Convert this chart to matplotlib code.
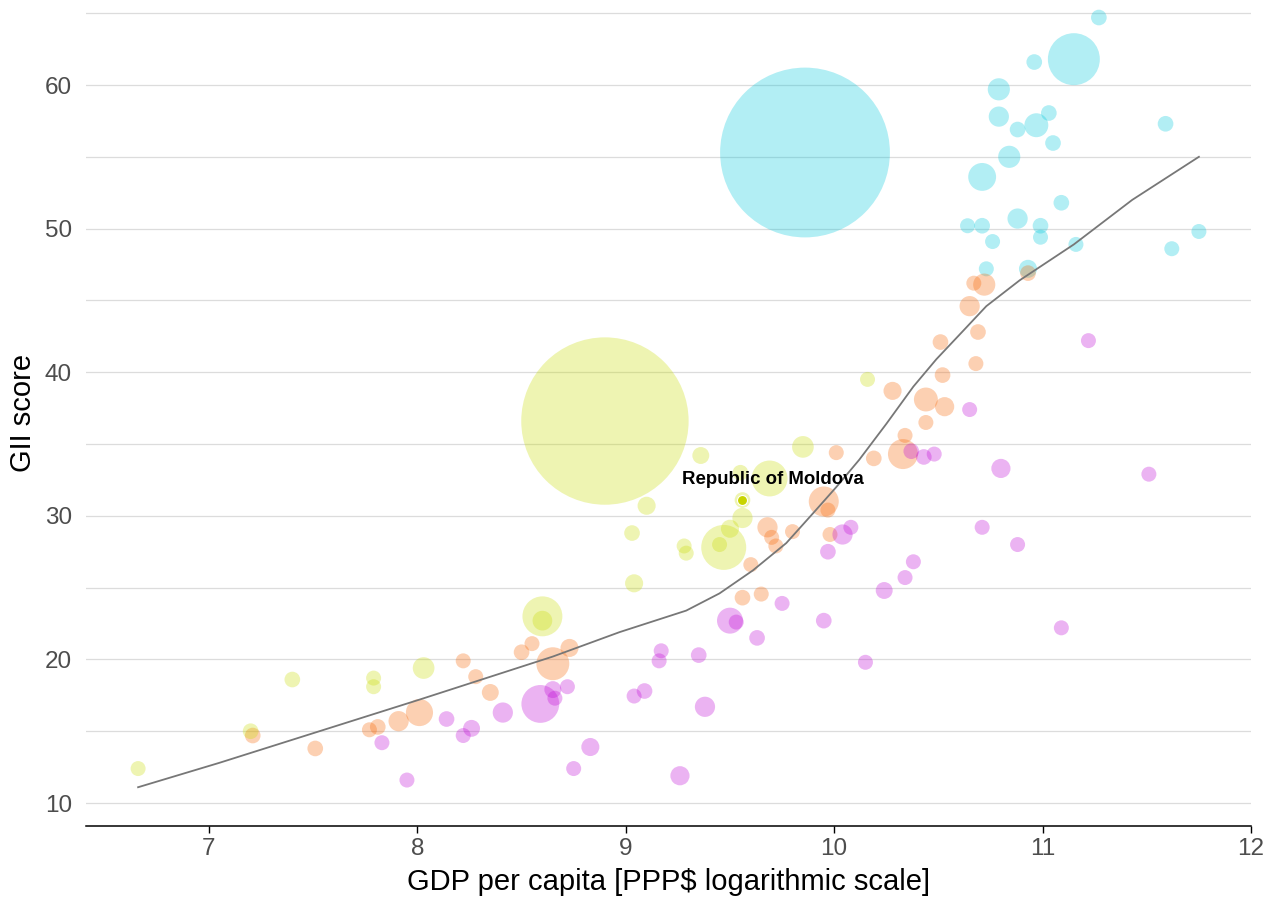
import numpy as np
import matplotlib.pyplot as plt
from matplotlib.ticker import MultipleLocator

plt.rcParams['font.family'] = ['Liberation Sans', 'DejaVu Sans']

# --- data: log GDP per capita, GII score, population (millions) ---
gdp_a = [11.27, 11.15, 10.96, 10.79, 10.79, 11.03, 10.88, 10.97, 11.05, 11.59, 10.84, 10.71,
         11.09, 10.88, 10.64, 10.71, 10.99, 10.99, 10.76, 11.75, 11.16, 11.62, 10.73, 10.93, 9.86]
gii_a = [64.7, 61.8, 61.6, 59.7, 57.8, 58.05, 56.9, 57.2, 55.96, 57.3, 55.0, 53.6,
         51.8, 50.7, 50.2, 50.2, 50.2, 49.4, 49.1, 49.8, 48.9, 48.6, 47.2, 47.2, 55.3]
pop_a = [12, 132, 12, 24, 20, 12, 12, 28, 12, 12, 24, 38,
         12, 20, 11, 12, 12, 11, 11, 11, 11, 11, 11, 16, 1410]

gdp_b = [10.67, 10.72, 10.93, 10.65, 10.69, 10.51, 10.68, 10.52, 10.28, 10.44, 10.53, 10.44,
         10.34, 10.33, 10.19, 10.01, 9.95, 9.97, 9.68, 9.70, 9.72, 9.80, 9.98, 9.60, 9.56, 9.65,
         8.65, 8.55, 8.50, 8.73, 8.22, 8.28, 8.35, 8.01, 7.91, 7.81, 7.77, 7.51, 7.21]
gii_b = [46.2, 46.1, 46.9, 44.6, 42.8, 42.1, 40.6, 39.8, 38.7, 38.1, 37.6, 36.5,
         35.6, 34.3, 34.0, 34.4, 31.0, 30.4, 29.2, 28.5, 27.9, 28.9, 28.7, 26.6, 24.3, 24.55,
         19.7, 21.1, 20.5, 20.8, 19.9, 18.8, 17.7, 16.3, 15.7, 15.3, 15.1, 13.8, 14.7]
pop_b = [11, 24, 12, 20, 12, 12, 11, 12, 16, 28, 18, 11,
         11, 44, 12, 11, 44, 11, 20, 11, 11, 11, 11, 11, 12, 11,
         53, 11, 12, 16, 11, 11, 14, 36, 20, 12, 11, 12, 12]

gdp_c = [8.90, 9.36, 9.10, 9.03, 9.55, 9.69, 9.56, 9.56, 9.50, 9.47, 9.45, 9.28,
         9.29, 9.04, 9.85, 10.16, 8.60, 8.60, 8.03, 7.79, 7.79, 7.40, 7.20, 6.66]
gii_c = [36.6, 34.2, 30.7, 28.8, 33.0, 32.6, 31.1, 29.85, 29.1, 27.8, 28.0, 27.9,
         27.4, 25.3, 34.8, 39.5, 23.0, 22.7, 19.4, 18.7, 18.1, 18.6, 15.0, 12.4]
pop_c = [1370, 14, 16, 12, 12, 63, 12, 20, 16, 99, 11, 11,
         11, 16, 23, 11, 78, 19, 23, 11, 11, 12, 12, 11]

gdp_d = [11.22, 10.65, 10.37, 10.43, 10.48, 10.80, 11.51, 10.71, 10.88, 10.38, 10.34, 10.24,
         10.04, 10.08, 9.97, 9.95, 10.15, 11.09, 9.75, 9.50, 9.53, 9.63, 9.17, 9.16, 9.35,
         9.04, 9.09, 9.38, 8.83, 8.75, 9.26, 8.59, 8.65, 8.66, 8.72, 8.41, 7.83, 7.95, 8.14,
         8.26, 8.22]
gii_d = [42.2, 37.4, 34.5, 34.1, 34.3, 33.3, 32.9, 29.2, 28.0, 26.8, 25.7, 24.8,
         28.7, 29.2, 27.5, 22.7, 19.8, 22.2, 23.9, 22.7, 22.6, 21.5, 20.6, 19.9, 20.3,
         17.45, 17.8, 16.7, 13.9, 12.4, 11.9, 16.9, 17.9, 17.3, 18.1, 16.3, 14.2, 11.6, 15.85,
         15.2, 14.7]
pop_d = [11, 11, 12, 12, 11, 18, 11, 11, 11, 11, 11, 14,
         20, 11, 12, 12, 11, 11, 11, 33, 11, 12, 11, 11, 12,
         11, 12, 20, 16, 11, 18, 70, 14, 11, 11, 20, 11, 11, 12,
         14, 11]

# smoothed trend
trend_x = [6.66, 7.05, 7.53, 8.01, 8.33, 8.65, 8.97, 9.29, 9.45, 9.61, 9.77, 9.90,
           10.01, 10.12, 10.25, 10.38, 10.49, 10.62, 10.73, 10.89, 11.15, 11.43, 11.75]
trend_y = [11.1, 12.8, 15.0, 17.2, 18.7, 20.2, 21.9, 23.4, 24.6, 26.2, 28.1, 30.2,
           32.0, 33.9, 36.4, 39.0, 40.9, 42.9, 44.6, 46.4, 48.9, 52.0, 55.0]

highlight_name = 'Republic of Moldova'
highlight_gdp = 9.56
highlight_gii = 31.1

groups = [
    (gdp_a, gii_a, pop_a, '#00c8dc'),
    (gdp_b, gii_b, pop_b, '#f86400'),
    (gdp_c, gii_c, pop_c, '#c8dc00'),
    (gdp_d, gii_d, pop_d, '#c005d7'),
]

size_scale = 10.6  # points^2 per million people

fig = plt.figure(figsize=(12.79, 8.99), dpi=100)
ax = fig.add_axes([86 / 1279, 1 - 826 / 899, 1165 / 1279, 826 / 899])

for gx, gy, gp, col in groups:
    ax.scatter(gx, gy, s=np.array(gp) * size_scale, color=col, alpha=0.3,
               edgecolors='none', zorder=2)

ax.plot(trend_x, trend_y, color='#777777', lw=1.3, zorder=3, solid_joinstyle='round')

ax.scatter([highlight_gdp], [highlight_gii], s=52, color='#c8d400',
           edgecolors='white', linewidths=0.8, zorder=4)
ax.annotate(highlight_name, xy=(highlight_gdp, highlight_gii), xytext=(22, 15),
            textcoords='offset points', ha='center', va='center',
            fontsize=13.4, fontweight='bold', color='black', zorder=5)

ax.set_xlim(6.41, 12.0)
ax.set_ylim(8.40, 65.92)
ax.xaxis.set_major_locator(MultipleLocator(1))
ax.yaxis.set_major_locator(MultipleLocator(10))
ax.yaxis.set_minor_locator(MultipleLocator(5))

ax.grid(axis='y', which='both', color='#dcdcdc', lw=0.9, zorder=0)
ax.set_axisbelow(True)
for side in ['top', 'right', 'left']:
    ax.spines[side].set_visible(False)
ax.spines['bottom'].set_color('black')
ax.spines['bottom'].set_linewidth(1.1)

ax.tick_params(axis='x', length=5, width=1.0, color='black', pad=3.5,
               labelsize=17.5, labelcolor='#4d4d4d')
ax.tick_params(axis='y', which='both', length=0, pad=10,
               labelsize=17.5, labelcolor='#4d4d4d')

ax.set_xlabel('GDP per capita [PPP$ logarithmic scale]', fontsize=21, labelpad=6)
ax.set_ylabel('GII score', fontsize=21, labelpad=6)

fig.savefig('out.png', dpi=100)
